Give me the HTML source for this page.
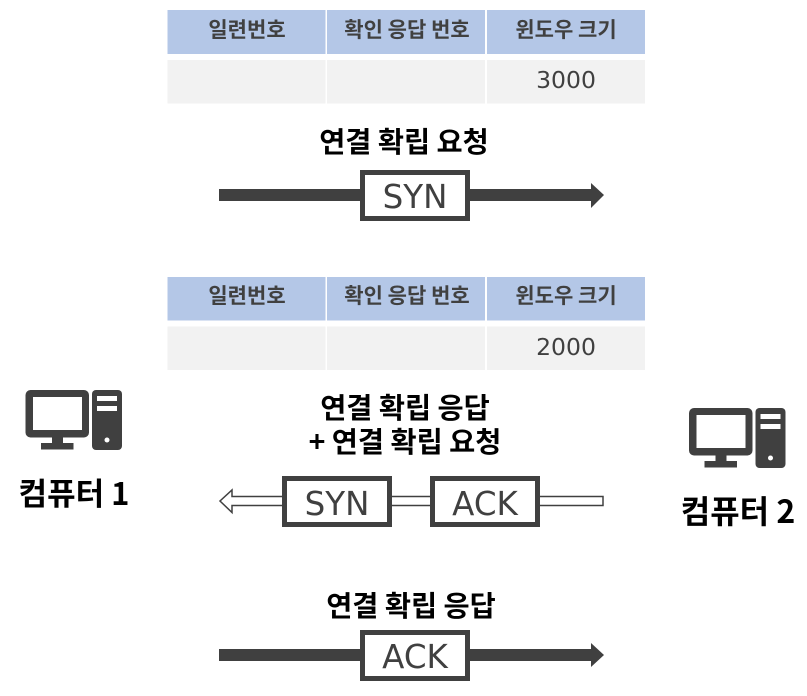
<!DOCTYPE html>
<html><head><meta charset="utf-8">
<style>
html,body{margin:0;padding:0;background:#fff;width:807px;height:696px;overflow:hidden}
svg{display:block}
text{font-family:"Liberation Sans","Noto Sans CJK KR",sans-serif}
.h{font-size:21px;font-weight:700;fill:#404040;text-anchor:middle;font-family:"Noto Sans CJK KR",sans-serif}
.n{font-size:23.5px;fill:#404040;text-anchor:middle;font-family:"DejaVu Sans","Liberation Sans",sans-serif}
.t{font-size:28.4px;font-weight:700;fill:#000;text-anchor:middle;font-family:"Noto Sans CJK KR",sans-serif}
.p{font-size:31px;font-weight:700;fill:#000;text-anchor:middle;font-family:"Noto Sans CJK KR",sans-serif}
.b{font-size:32.500px;fill:#404040;text-anchor:middle;font-family:"DejaVu Sans","Liberation Sans",sans-serif}
</style></head><body>
<svg width="807" height="696" viewBox="0 0 807 696" xmlns="http://www.w3.org/2000/svg">
<g fill="#b4c7e7">
<rect x="167.5" y="10" width="158" height="44"/><rect x="327" y="10" width="158" height="44"/><rect x="487" y="10" width="158" height="44"/>
<rect x="167.5" y="277" width="158" height="43.500"/><rect x="327" y="277" width="158" height="43.500"/><rect x="487" y="277" width="158" height="43.500"/>
</g>
<g fill="#f2f2f2">
<rect x="167.5" y="60" width="158" height="43.500"/><rect x="327" y="60" width="158" height="43.500"/><rect x="487" y="60" width="158" height="43.500"/>
<rect x="167.5" y="326.500" width="158" height="43.500"/><rect x="327" y="326.500" width="158" height="43.500"/><rect x="487" y="326.500" width="158" height="43.500"/>
</g>
<text class="h" x="247" y="37">일련번호</text><text class="h" x="407" y="37">확인 응답 번호</text><text class="h" x="566" y="37">윈도우 크기</text>
<text class="n" x="566" y="88">3000</text>
<text class="h" x="247" y="303">일련번호</text><text class="h" x="407" y="303">확인 응답 번호</text><text class="h" x="566" y="303">윈도우 크기</text>
<text class="n" x="566" y="355">2000</text>

<text class="t" x="404" y="152">연결 확립 요청</text>
<rect x="219" y="189" width="372" height="12" fill="#404040"/>
<polygon points="591,183 604,195 591,208" fill="#404040"/>
<rect x="362.500" y="172.500" width="105" height="46" fill="#fff" stroke="#404040" stroke-width="5"/>
<text class="b" x="415" y="208">SYN</text>

<text class="t" x="405" y="418">연결 확립 응답</text>
<text class="t" x="405" y="452">+ 연결 확립 요청</text>
<path d="M603 496.500H232V490L220 501L232 512.500V505.500H603Z" fill="#fff" stroke="#404040" stroke-width="1.500"/>
<rect x="284.500" y="478.500" width="105" height="46" fill="#fff" stroke="#404040" stroke-width="5"/>
<rect x="432.500" y="478.500" width="105" height="46" fill="#fff" stroke="#404040" stroke-width="5"/>
<text class="b" x="337" y="515">SYN</text>
<text class="b" x="485" y="515">ACK</text>

<text class="t" x="411" y="616">연결 확립 응답</text>
<rect x="219" y="649" width="372" height="12" fill="#404040"/>
<polygon points="591,643 604,655 591,667" fill="#404040"/>
<rect x="362.500" y="632.500" width="105" height="46" fill="#fff" stroke="#404040" stroke-width="5"/>
<text class="b" x="415" y="668">ACK</text>

<g fill="#404040">
<rect x="25.500" y="390" width="63.500" height="47.500" rx="5"/>
<rect x="33" y="397" width="49" height="33" fill="#fff"/>
<rect x="52" y="437" width="11" height="7"/>
<rect x="41" y="443" width="32.500" height="6.500"/>
<rect x="92" y="390" width="30" height="60" rx="4"/>
<rect x="97" y="396" width="20" height="5" fill="#fff"/>
<rect x="97" y="406" width="20" height="5" fill="#fff"/>
<circle cx="107" cy="440" r="2.500" fill="#fff"/>
</g>
<g fill="#404040" transform="translate(663.500,18)">
<rect x="25.500" y="390" width="63.500" height="47.500" rx="5"/>
<rect x="33" y="397" width="49" height="33" fill="#fff"/>
<rect x="52" y="437" width="11" height="7"/>
<rect x="41" y="443" width="32.500" height="6.500"/>
<rect x="92" y="390" width="30" height="60" rx="4"/>
<rect x="97" y="396" width="20" height="5" fill="#fff"/>
<rect x="97" y="406" width="20" height="5" fill="#fff"/>
<circle cx="107" cy="440" r="2.500" fill="#fff"/>
</g>
<text class="p" x="74" y="505">컴퓨터 1</text>
<text class="p" x="738" y="523" style="font-size:32px">컴퓨터 2</text>
</svg>
</body></html>
